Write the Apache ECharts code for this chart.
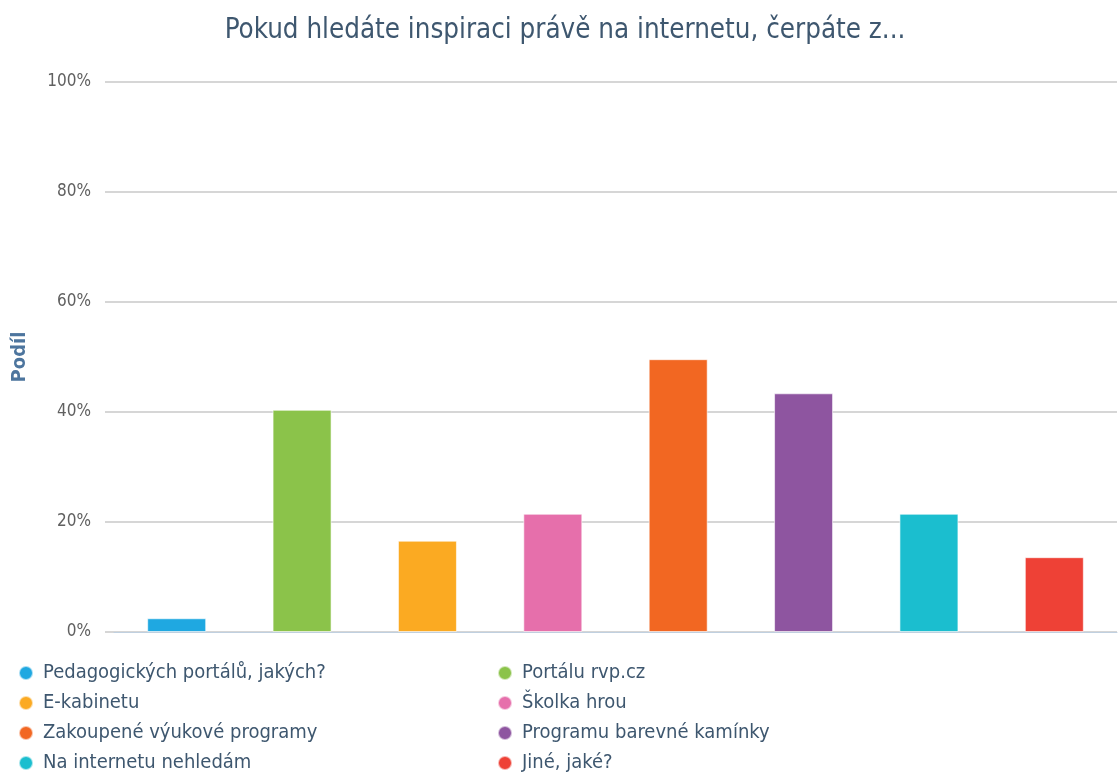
<!DOCTYPE html>
<html>
<head>
<meta charset="utf-8">
<script src="https://cdn.jsdelivr.net/npm/echarts@6/dist/echarts.min.js"></script>
<style>
  html, body { margin: 0; padding: 0; background: #fff; }
  #chart { width: 1118px; height: 773px; }
</style>
</head>
<body>
<div id="chart"></div>
<script>
// Answers to the question, one bar per category
const categories = [
  'Pedagogických portálů, jakých?',
  'Portálu rvp.cz',
  'E-kabinetu',
  'Školka hrou',
  'Zakoupené výukové programy',
  'Programu barevné kamínky',
  'Na internetu nehledám',
  'Jiné, jaké?'
];
// Share of respondents, in percent
const shares = [2.5, 40.4, 16.6, 21.5, 49.6, 43.4, 21.5, 13.6];
const colors = ['#1fa8e1', '#8bc34a', '#fbaa22', '#e66fab', '#f26722', '#8e55a0', '#1bbecf', '#ee4136'];
const yTicks = [0, 20, 40, 60, 80, 100];

const textColor = '#3e576f';
const font = 'DejaVu Sans Condensed, DejaVu Sans';

// One series per category so each gets its own legend entry
const series = categories.map((name, i) => ({
  name: name,
  type: 'bar',
  stack: 'all',
  xAxisIndex: 1,
  yAxisIndex: 1,
  barWidth: 59,
  itemStyle: { color: colors[i], borderColor: 'rgba(255,255,255,0.6)', borderWidth: 1 },
  data: categories.map((_, j) => (j === i ? shares[i] : '-'))
}));

const leftItems = categories.filter((_, i) => i % 2 === 0);
const rightItems = categories.filter((_, i) => i % 2 === 1);

const legendBase = {
  orient: 'vertical',
  top: 663,
  padding: 0,
  icon: 'circle',
  itemWidth: 24,
  itemHeight: 14,
  itemGap: 10,
  textStyle: { color: textColor, fontSize: 20, fontFamily: font, lineHeight: 20 },
  selectedMode: false
};

const yRange = { min: yTicks[0], max: yTicks[yTicks.length - 1], interval: 20 };

const chart = echarts.init(document.getElementById('chart'), null, { renderer: 'canvas' });
chart.setOption({
  animation: false,
  color: colors,
  title: {
    text: 'Pokud hledáte inspiraci právě na internetu, čerpáte z...',
    left: 560,
    textAlign: 'center',
    top: 12,
    textStyle: { color: textColor, fontSize: 27.5, fontWeight: 'normal', fontFamily: font }
  },
  legend: [
    Object.assign({}, legendBase, { left: 18, data: leftItems }),
    Object.assign({}, legendBase, { left: 497, data: rightItems })
  ],
  // grid 0 carries the value scale and its grid lines, grid 1 the bars
  grid: [
    { left: 105, right: 1, top: 82, bottom: 141, outerBoundsMode: 'none' },
    { left: 114, right: 1, top: 82, bottom: 141, outerBoundsMode: 'none' }
  ],
  xAxis: [
    { type: 'category', gridIndex: 0, data: categories, show: false },
    {
      type: 'category',
      gridIndex: 1,
      data: categories,
      axisLine: { lineStyle: { color: '#c0d0e0', width: 1 } },
      axisTick: { alignWithLabel: true, length: 8, lineStyle: { color: '#c0d0e0' } },
      axisLabel: { show: false },
      splitLine: { show: false }
    }
  ],
  yAxis: [
    Object.assign({
      type: 'value',
      gridIndex: 0,
      name: 'Podíl',
      nameLocation: 'middle',
      nameGap: 75,
      nameRotate: 90,
      nameTextStyle: { color: '#4d759e', fontSize: 20, fontWeight: 'bold', fontFamily: font },
      axisLine: { show: false },
      axisTick: { show: false },
      axisLabel: {
        margin: 14,
        color: '#606060',
        fontSize: 17,
        fontFamily: font,
        formatter: v => v + '%'
      },
      splitLine: { lineStyle: { color: '#c8c8c8', width: 1.5 } }
    }, yRange),
    Object.assign({
      type: 'value',
      gridIndex: 1,
      show: false,
      splitLine: { show: false }
    }, yRange)
  ],
  series: series
});
</script>
</body>
</html>
